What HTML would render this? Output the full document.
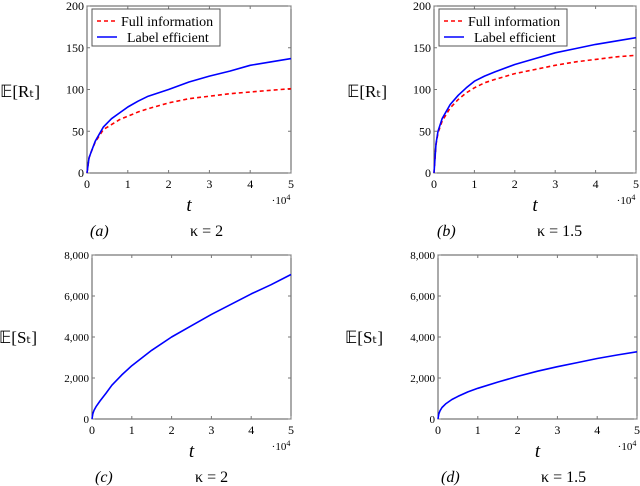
<!DOCTYPE html>
<html><head><meta charset="utf-8"><style>
body{margin:0;background:#fff;width:640px;height:486px;overflow:hidden}
svg{display:block;font-family:"Liberation Serif",serif}
</style></head><body>
<svg id="s" width="640" height="486"></svg>
<script>
const xs=[0,0.05,0.1,0.2,0.4,0.6,0.8,1,1.25,1.5,2,2.5,3,3.5,4,4.5,5];
const aBlue=[0,18,25,38,55,65,72,79,86,92,100,109,116,122,129,133,137];
const aRed=[0,18,25,37,52,58,64,68,73,77,84,89,92,95,97,99,101];
const bBlue=[0,35,50,65,82,93,102,110,116,121,130,137,144,149,154,158,162];
const bRed=[0,34,48,62,78,88,96,102,108,112,119,124,129,133,136,139,141];
const xsS=[0,0.02,0.05,0.1,0.2,0.35,0.5,0.75,1,1.5,2,2.5,3,3.5,4,4.5,5];
const cVals=[0,250,420,600,880,1250,1650,2150,2600,3350,4000,4550,5100,5600,6100,6550,7050];
const dVals=[0,250,400,560,750,950,1100,1320,1500,1800,2080,2330,2550,2750,2950,3120,3280];
const xTicks=[0,1,2,3,4,5];
const rTicks=[0,50,100,150,200];
const sTicks=[0,2000,4000,6000,8000];
const sTickLabels=["0","2,000","4,000","6,000","8,000"];
const NS="http://www.w3.org/2000/svg",S=document.getElementById('s');
function el(t,a,p){const e=document.createElementNS(NS,t);for(const k in a)e.setAttribute(k,a[k]);(p||S).appendChild(e);return e;}
function txt(x,y,s,sz,anchor,p,style){const e=el('text',{x:x,y:y,'font-size':sz,'text-anchor':anchor||'middle'},p);if(style)e.setAttribute('font-style',style);e.textContent=s;return e;}
function panel(cfg){
 const g=el('g',{});
 
 
 const X=v=>cfg.x0+(cfg.x1-cfg.x0)*v/5, Y=v=>cfg.y0-(cfg.y0-cfg.y1)*v/cfg.ymax;
 const fr=el('rect',{x:cfg.x0,y:cfg.y1,width:cfg.x1-cfg.x0,height:cfg.y0-cfg.y1,fill:'none',stroke:'#555','stroke-width':1},g);
 
 xTicks.forEach(t=>{el('line',{x1:X(t),x2:X(t),y1:cfg.y0,y2:cfg.y0-3,stroke:'#777'},g);el('line',{x1:X(t),x2:X(t),y1:cfg.y1,y2:cfg.y1+3,stroke:'#777'},g);
  const l=txt(X(t),cfg.y0+15,String(t),12,'middle',g);});
 cfg.yt.forEach((t,i)=>{el('line',{x1:cfg.x0,x2:cfg.x0+3,y1:Y(t),y2:Y(t),stroke:'#777'},g);el('line',{x1:cfg.x1,x2:cfg.x1-3,y1:Y(t),y2:Y(t),stroke:'#777'},g);
  const l=txt(cfg.x0-3,Y(t)+4,cfg.ytl[i],cfg.ytsz,'end',g);});
 cfg.series.forEach(s=>{const d=s.x.map((v,i)=>(i?'L':'M')+X(v).toFixed(1)+','+Y(s.y[i]).toFixed(1)).join('');
  const p=el('path',{d:d,fill:'none',stroke:s.c,'stroke-width':1.6,'stroke-linejoin':'round'},g);if(s.dash)p.setAttribute('stroke-dasharray','4,3');
  });
 const xl=txt((cfg.x0+cfg.x1)/2,cfg.y0+38,'t',19,'middle',g,'italic');
 const m=txt(cfg.x1-10,cfg.y0+31,'·10',11,'middle',g);const sp=el('tspan',{dy:-4,'font-size':8},m);sp.textContent='4';
 
 const yl=txt(cfg.ylx,cfg.yly,cfg.ylab,17,'middle',g);
 const cl=txt(cfg.x0+3,cfg.y0+63,cfg.cap,16,'start',g,'italic');
 const kl=txt(cfg.x0+103,cfg.y0+63,cfg.kap,16,'start',g);
 if(cfg.legend){const lg=el('g',{},g);
  el('rect',{x:cfg.x0+5,y:cfg.y1+3,width:128,height:37,fill:'#fff',stroke:'#555'},lg);
  el('line',{x1:cfg.x0+10,x2:cfg.x0+30,y1:cfg.y1+15,y2:cfg.y1+15,stroke:'#f00','stroke-width':1.6,'stroke-dasharray':'4,3'},lg);
  el('line',{x1:cfg.x0+10,x2:cfg.x0+30,y1:cfg.y1+31,y2:cfg.y1+31,stroke:'#00f','stroke-width':1.6},lg);
  const a=txt(cfg.x0+34,cfg.y1+20,'Full information',14,'start',lg);
  const b=txt(cfg.x0+40,cfg.y1+36,'Label efficient',14,'start',lg);}
}
const rtl=rTicks.map(String);
panel({name:'panel-a',x0:87,x1:291,y0:173,y1:6,ymax:200,yt:rTicks,ytl:rtl,ytsz:12,legend:true,ylab:'𝔼[Rₜ]',ylx:20,yly:97,cap:'(a)',kap:'κ = 2',
 series:[{x:xs,y:aRed,c:'#f00',dash:true,n:'full-information-line'},{x:xs,y:aBlue,c:'#00f',n:'label-efficient-line'}]});
panel({name:'panel-b',x0:434,x1:636,y0:173,y1:6,ymax:200,yt:rTicks,ytl:rtl,ytsz:12,legend:true,ylab:'𝔼[Rₜ]',ylx:367,yly:97,cap:'(b)',kap:'κ = 1.5',
 series:[{x:xs,y:bRed,c:'#f00',dash:true,n:'full-information-line'},{x:xs,y:bBlue,c:'#00f',n:'label-efficient-line'}]});
panel({name:'panel-c',x0:92,x1:291,y0:419,y1:255,ymax:8000,yt:sTicks,ytl:sTickLabels,ytsz:11,legend:false,ylab:'𝔼[Sₜ]',ylx:18,yly:343,cap:'(c)',kap:'κ = 2',
 series:[{x:xsS,y:cVals,c:'#00f',n:'label-count-line'}]});
panel({name:'panel-d',x0:438,x1:637,y0:419,y1:255,ymax:8000,yt:sTicks,ytl:sTickLabels,ytsz:11,legend:false,ylab:'𝔼[Sₜ]',ylx:364,yly:343,cap:'(d)',kap:'κ = 1.5',
 series:[{x:xsS,y:dVals,c:'#00f',n:'label-count-line'}]});
</script>
</body></html>
